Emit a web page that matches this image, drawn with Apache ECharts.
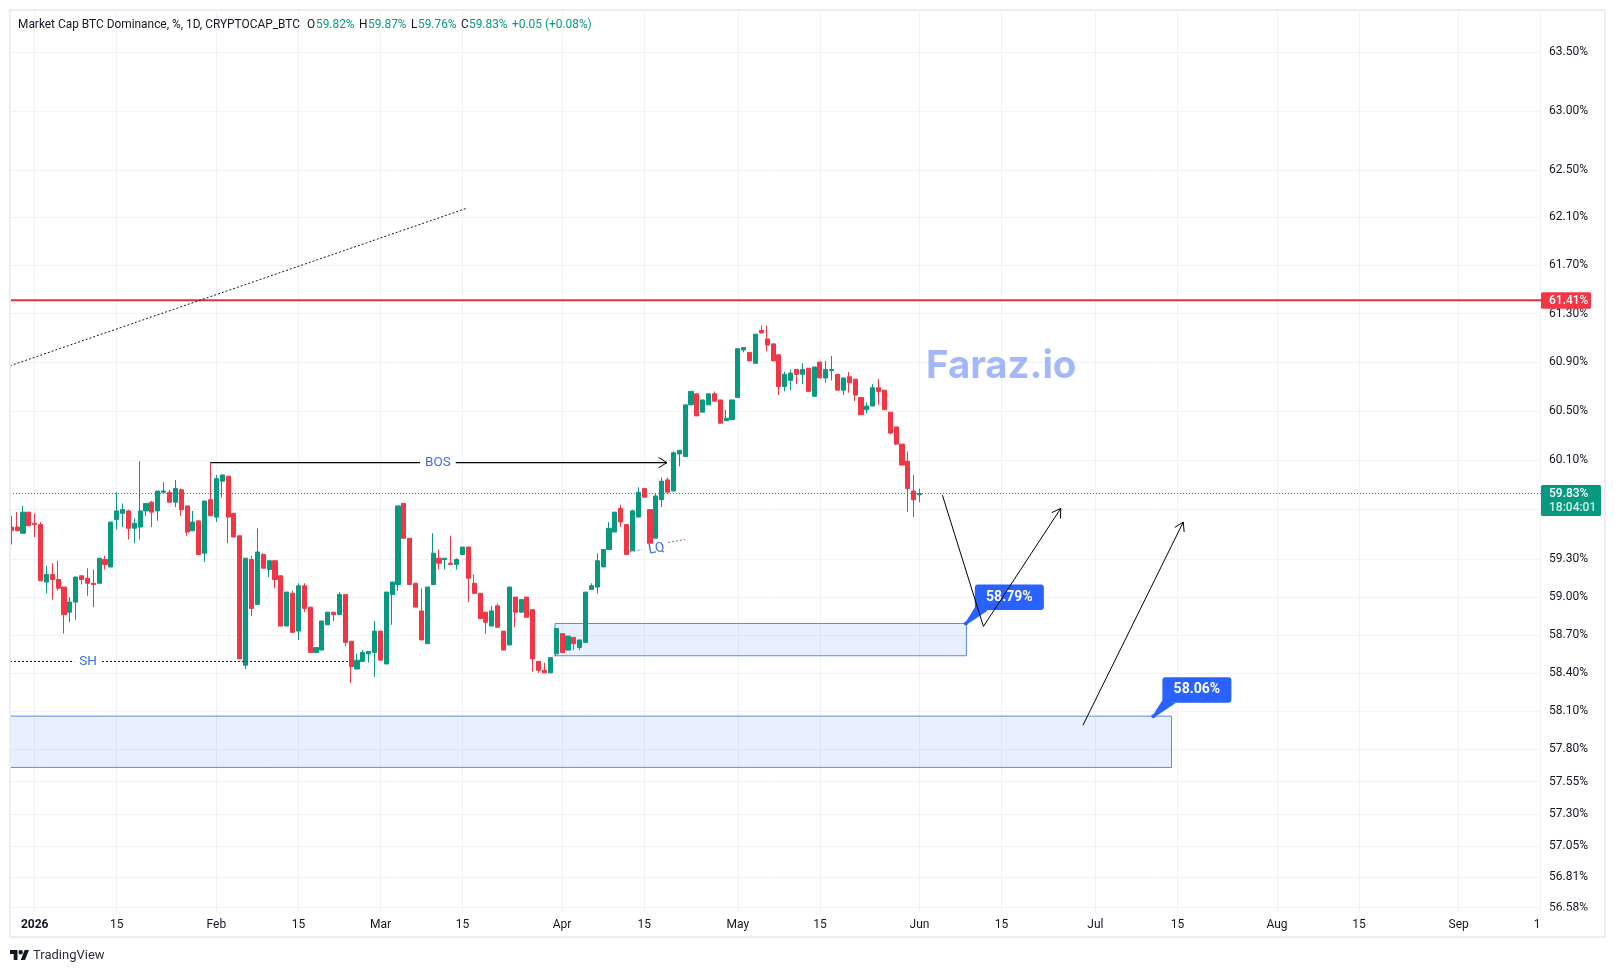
<!DOCTYPE html>
<html>
<head>
<meta charset="utf-8">
<title>BTC Dominance</title>
<script src="https://cdn.jsdelivr.net/npm/echarts@6/dist/echarts.min.js"></script>
<style>
  html, body { margin: 0; padding: 0; background: #fff; }
  #chart { width: 1615px; height: 973px; }
</style>
</head>
<body>
<div id="chart"></div>
<script>
// Daily candles, day numbers count from 1 Jan 2026
const firstCandleDay = -4;
const opens = [59.56,59.56,59.51,59.68,59.59,59.58,59.12,59.18,59.14,59.08,58.88,58.96,59.17,59.15,59.11,59.11,59.30,59.24,59.62,59.67,59.69,59.55,59.56,59.69,59.76,59.69,59.84,59.84,59.76,59.86,59.73,59.53,59.61,59.35,59.78,59.64,59.93,59.97,59.67,59.49,58.46,59.30,58.94,59.34,59.22,59.29,59.17,58.77,59.03,58.73,59.09,58.92,58.56,58.58,58.78,58.88,58.86,59.02,58.65,58.43,58.49,58.55,58.56,58.73,58.47,59.02,59.10,59.75,59.47,59.11,58.89,58.63,59.10,59.31,59.30,59.27,59.26,59.34,59.40,59.11,59.03,58.88,58.77,58.93,58.73,58.62,59.00,58.88,59.00,58.90,58.49,58.42,58.40,58.55,58.71,58.58,58.68,58.60,58.64,59.06,59.08,59.24,59.38,59.52,59.71,59.58,59.37,59.64,59.87,59.70,59.47,59.78,59.94,59.85,60.15,60.13,60.55,60.64,60.49,60.55,60.64,60.59,60.42,60.43,60.61,61.00,60.98,60.89,61.16,61.09,61.05,60.96,60.70,60.75,60.84,60.80,60.85,60.62,60.90,60.77,60.83,60.80,60.67,60.78,60.76,60.61,60.51,60.54,60.69,60.67,60.49,60.37,60.23,60.09,59.85,59.82];
const highs = [59.65,59.68,59.73,59.68,59.67,59.60,59.25,59.27,59.29,59.08,59.00,59.16,59.17,59.23,59.22,59.31,59.33,59.60,59.84,59.75,59.70,59.63,60.09,59.75,59.77,59.85,59.92,59.86,59.94,59.87,59.73,59.69,59.61,59.77,60.08,59.98,59.98,59.97,59.67,59.49,59.31,59.33,59.55,59.35,59.29,59.29,59.17,59.04,59.05,59.11,59.11,58.92,58.60,58.81,58.88,58.88,59.04,59.02,58.65,58.55,58.58,58.57,58.81,58.73,59.04,59.12,59.73,59.75,59.47,59.11,59.07,59.08,59.51,59.38,59.31,59.49,59.31,59.40,59.40,59.18,59.03,58.88,58.93,58.95,58.73,59.08,59.00,58.98,59.00,58.90,58.49,58.48,58.52,58.75,58.71,58.69,58.68,58.66,59.04,59.11,59.35,59.38,59.60,59.68,59.74,59.58,59.70,59.88,59.87,59.70,59.83,59.96,59.96,60.17,60.18,60.55,60.66,60.64,60.59,60.64,60.66,60.59,60.51,60.59,61.01,61.02,60.98,61.13,61.20,61.20,61.05,60.96,60.82,60.84,60.84,60.89,60.85,60.86,60.90,60.91,60.95,60.80,60.77,60.82,60.76,60.61,60.57,60.72,60.76,60.67,60.49,60.37,60.23,60.17,59.98,59.87];
const lows = [59.42,59.53,59.51,59.57,59.48,59.13,59.03,58.98,59.05,58.71,58.80,58.82,59.10,59.01,58.92,59.11,59.22,59.24,59.54,59.56,59.46,59.43,59.46,59.65,59.56,59.61,59.84,59.76,59.72,59.65,59.49,59.53,59.34,59.28,59.65,59.60,59.80,59.43,59.48,58.51,58.43,58.85,58.94,59.23,59.16,59.07,58.77,58.77,58.72,58.66,58.88,58.56,58.56,58.58,58.78,58.81,58.86,58.61,58.32,58.43,58.49,58.48,58.37,58.50,58.47,58.78,59.05,59.47,59.10,58.92,58.66,58.63,59.10,59.22,59.22,59.26,59.22,59.34,58.96,59.03,58.83,58.71,58.77,58.76,58.58,58.62,58.76,58.88,58.84,58.41,58.40,58.40,58.40,58.53,58.56,58.58,58.58,58.58,58.64,59.06,59.03,59.24,59.38,59.52,59.56,59.34,59.37,59.64,59.80,59.43,59.47,59.72,59.84,59.85,60.05,60.13,60.55,60.46,60.49,60.55,60.58,60.40,60.42,60.43,60.61,60.98,60.91,60.89,61.14,60.99,60.91,60.63,60.66,60.67,60.72,60.72,60.66,60.62,60.77,60.73,60.75,60.67,60.63,60.65,60.58,60.47,60.48,60.54,60.55,60.51,60.31,60.22,60.06,59.68,59.64,59.76];
const closes = [59.53,59.53,59.68,59.57,59.58,59.13,59.18,59.14,59.07,58.86,58.96,59.16,59.14,59.11,59.10,59.31,59.26,59.60,59.69,59.70,59.55,59.59,59.69,59.75,59.68,59.85,59.85,59.76,59.87,59.70,59.52,59.60,59.34,59.77,59.65,59.95,59.98,59.64,59.48,58.51,59.31,58.91,59.36,59.23,59.29,59.14,58.77,59.04,58.72,59.09,58.91,58.56,58.60,58.81,58.88,58.86,59.02,58.64,58.45,58.50,58.56,58.57,58.73,58.50,59.04,59.12,59.73,59.47,59.10,58.92,58.66,59.08,59.35,59.27,59.31,59.26,59.30,59.40,59.15,59.03,58.83,58.80,58.89,58.76,58.58,59.08,58.88,58.98,58.84,58.51,58.42,58.40,58.52,58.75,58.56,58.69,58.63,58.66,59.04,59.09,59.29,59.38,59.55,59.68,59.60,59.34,59.69,59.84,59.80,59.43,59.81,59.93,59.84,60.16,60.18,60.55,60.66,60.46,60.59,60.64,60.58,60.40,60.44,60.59,61.01,61.02,60.91,61.13,61.14,61.04,60.91,60.70,60.80,60.81,60.80,60.84,60.66,60.86,60.77,60.84,60.84,60.67,60.77,60.73,60.63,60.47,60.54,60.69,60.66,60.51,60.32,60.23,60.06,59.87,59.78,59.83];

// Price scale
const priceTicks = [63.50,63.00,62.50,62.10,61.70,61.30,60.90,60.50,60.10,59.70,59.30,59.00,58.70,58.40,58.10,57.80,57.55,57.30,57.05,56.81,56.58];
const priceLabels = priceTicks.filter(p => p !== 59.70);

// Time scale
const timeTickDays = [0,14,31,45,59,73,90,104,120,134,151,165,181,195,212,226,243,257];
const timeLabelDays = [0,14,31,45,59,73,90,104,120,134,151,165,181,195,212,226,243,256.4];
const timeLabels = ['2026','15','Feb','15','Mar','15','Apr','15','May','15','Jun','15','Jul','15','Aug','15','Sep','1'];

// Drawings on the chart
const lastPrice = 59.83;
const resistancePrice = 61.41;
const priceTags = [
  { price: 61.41, text: ['61.41%'], color: '#f23645', w: 50 },
  { price: 59.83, text: ['59.83%', '18:04:01'], color: '#089981', w: 60 }
];
const demandZones = [
  { fromDay: 88.8, toDay: 159.0, top: 58.79, bottom: 58.535 },
  { fromDay: -4.215, toDay: 194.0, top: 58.06, bottom: 57.66 }
];
const priceCallouts = [
  { day: 158.9, price: 58.79, text: '58.79%' },
  { day: 190.9, price: 58.06, text: '58.06%' }
];
const dottedLines = [
  { from: [-4.215, 60.87], to: [73.9, 62.18], color: '#131722' },
  { from: [-4.215, 58.49], to: [53.8, 58.49], color: '#131722' },
  { from: [101.5, 59.36], to: [103.6, 59.38], color: '#787b86' },
  { from: [108.1, 59.436], to: [111.0, 59.46], color: '#787b86' }
];
const breakLine = { from: [30, 60.08], to: [107.9, 60.08] };
const arrowPaths = [
  [[154.9, 59.817], [161.9, 58.767], [175.1, 59.71]],
  [[178.9, 57.99], [196.0, 59.60]]
];
const structureLabels = [
  { text: 'BOS', day: 68.8, price: 60.08, rotate: 0 },
  { text: 'SH', day: 9.1, price: 58.49, rotate: 0 },
  { text: 'LQ', day: 106.1, price: 59.385, rotate: 0.2 }
];
const headerParts = [
  ['Market Cap BTC Dominance, %, 1D, CRYPTOCAP_BTC', 18, '#131722'],
  ['O', 307, '#131722'], ['59.82%', 316, '#089981'],
  ['H', 359, '#131722'], ['59.87%', 368, '#089981'],
  ['L', 411, '#131722'], ['59.76%', 418, '#089981'],
  ['C', 461, '#131722'], ['59.83%', 469, '#089981'],
  ['+0.05 (+0.08%)', 512, '#089981']
];

const UI_FONT = 'Roboto, "Noto Sans", sans-serif';
const candleData = opens.map((o, i) => [firstCandleDay + i, o, closes[i], lows[i], highs[i]]);
const plotLeftDay = -4.215, plotRightDay = 257.05;

// Open chevron at the tip of a segment
function chevron(p, q, stroke) {
  const a = Math.atan2(q[1] - p[1], q[0] - p[0]);
  const len = 10, spread = 0.55;
  return {
    type: 'polyline',
    shape: { points: [
      [q[0] - len * Math.cos(a - spread), q[1] - len * Math.sin(a - spread)],
      q,
      [q[0] - len * Math.cos(a + spread), q[1] - len * Math.sin(a + spread)]
    ] },
    style: { fill: 'none', stroke, lineWidth: 1 }
  };
}

const chart = echarts.init(document.getElementById('chart'), null, { renderer: 'canvas' });
chart.setOption({
  animation: false,
  backgroundColor: '#ffffff',
  textStyle: { fontFamily: UI_FONT },
  grid: { left: 10, right: 74, top: 10.5, bottom: 61.5, containLabel: false },
  xAxis: {
    type: 'value', min: plotLeftDay, max: plotRightDay,
    axisLine: { show: false },
    axisTick: { show: false, customValues: timeTickDays },
    splitLine: { show: true, lineStyle: { color: '#f2f3f7', width: 1 } },
    axisLabel: {
      customValues: timeLabelDays, margin: 7.5, color: '#131722', fontSize: 12, fontFamily: UI_FONT,
      formatter: v => {
        const t = timeLabels[timeLabelDays.indexOf(v)];
        return t === '2026' ? '{y|2026}' : t;
      },
      rich: { y: { fontWeight: 'bold', fontSize: 12, color: '#131722', fontFamily: UI_FONT } }
    }
  },
  yAxis: {
    type: 'log', position: 'right', min: 56.55, max: 63.858, logBase: 10,
    axisLine: { show: false },
    axisTick: { show: false, customValues: priceTicks },
    splitLine: { show: true, lineStyle: { color: '#f2f3f7', width: 1 } },
    axisLabel: {
      customValues: priceLabels, margin: 8, color: '#131722', fontSize: 12, fontFamily: UI_FONT,
      formatter: v => Number(v).toFixed(2) + '%'
    }
  },
  graphic: [
    { type: 'rect', z: 100, silent: true, shape: { x: 1541, y: 910.5, width: 60, height: 5 }, style: { fill: '#fff' } },
    { type: 'rect', z: 101, silent: true, shape: { x: 10, y: 10, width: 1595, height: 927 },
      style: { fill: 'none', stroke: '#eceef2', lineWidth: 2 } },
    ...headerParts.map(([text, x, fill]) => ({
      type: 'text', z: 102, silent: true, x, y: 25,
      style: { text, fill, font: '11.9px ' + UI_FONT, verticalAlign: 'middle' }
    })),
    { type: 'text', z: 102, silent: true, x: 926, y: 366,
      style: { text: 'Faraz.io', fill: '#a3b8fa', font: 'bold 38.4px Inter, sans-serif', verticalAlign: 'middle' } },
    { type: 'polygon', z: 102, silent: true,
      shape: { points: [[17.5, 960], [13.7, 960], [13.7, 954], [10, 954], [10, 950], [17.5, 950]] }, style: { fill: '#131722' } },
    { type: 'polygon', z: 102, silent: true,
      shape: { points: [[25, 960], [20.7, 960], [24.7, 950], [29, 950]] }, style: { fill: '#131722' } },
    { type: 'circle', z: 102, silent: true, shape: { cx: 20.7, cy: 952.2, r: 2.2 }, style: { fill: '#131722' } },
    { type: 'text', z: 102, silent: true, x: 33, y: 955.5,
      style: { text: 'TradingView', fill: '#2a2e39', font: '13px ' + UI_FONT, verticalAlign: 'middle' } }
  ],
  series: [
    {
      type: 'custom', name: 'price lines', z: 1, silent: true,
      data: [[plotLeftDay, lastPrice], [plotLeftDay, resistancePrice]],
      renderItem: (params, api) => {
        const a = api.coord([plotLeftDay, api.value(1)]);
        const b = api.coord([plotRightDay, api.value(1)]);
        const isLast = params.dataIndex === 0;
        return {
          type: 'line', shape: { x1: a[0], y1: a[1], x2: b[0], y2: b[1] },
          style: isLast
            ? { stroke: '#089981', lineWidth: 1, lineDash: [1, 2] }
            : { stroke: '#e0323f', lineWidth: 2 }
        };
      }
    },
    {
      type: 'custom', name: 'zone rects', z: 1, silent: true,
      data: demandZones.map(z => [z.fromDay, z.top, z.toDay, z.bottom]),
      renderItem: (params, api) => {
        const p = api.coord([api.value(0), api.value(1)]);
        const q = api.coord([api.value(2), api.value(3)]);
        return {
          type: 'rect',
          shape: { x: p[0], y: p[1], width: q[0] - p[0], height: q[1] - p[1] },
          style: { fill: 'rgba(41,110,235,0.11)', stroke: '#6389db', lineWidth: 1 }
        };
      }
    },
    {
      type: 'candlestick', name: 'BTC.D', z: 2, barWidth: 4.6,
      data: candleData,
      encode: { x: 0, y: [1, 2, 3, 4] },
      itemStyle: { color: '#089981', color0: '#f23645', borderColor: '#089981', borderColor0: '#f23645', borderWidth: 1 }
    },
    {
      type: 'custom', name: 'dotted lines', z: 3, silent: true,
      data: dottedLines.map(l => [l.from[0], l.from[1], l.to[0], l.to[1]]),
      renderItem: (params, api) => {
        const p = api.coord([api.value(0), api.value(1)]);
        const q = api.coord([api.value(2), api.value(3)]);
        return {
          type: 'line', shape: { x1: p[0], y1: p[1], x2: q[0], y2: q[1] },
          style: { stroke: dottedLines[params.dataIndex].color, lineWidth: 1, lineDash: [2, 2] }
        };
      }
    },
    {
      type: 'custom', name: 'break of structure', z: 3, silent: true,
      data: [[...breakLine.from, ...breakLine.to]],
      renderItem: (params, api) => {
        const p = api.coord([api.value(0), api.value(1)]);
        const q = api.coord([api.value(2), api.value(3)]);
        return { type: 'group', children: [
          { type: 'line', shape: { x1: p[0], y1: p[1], x2: q[0], y2: q[1] }, style: { stroke: '#000000', lineWidth: 1.2 } },
          chevron(p, q, '#000000')
        ] };
      }
    },
    {
      type: 'custom', name: 'structure labels', z: 4, silent: true,
      data: structureLabels.map(l => [l.day, l.price]),
      renderItem: (params, api) => {
        const l = structureLabels[params.dataIndex];
        const p = api.coord([api.value(0), api.value(1)]);
        return {
          type: 'text', x: p[0], y: p[1], rotation: l.rotate,
          style: {
            text: l.text, fill: '#3d6fdc', font: '13.5px ' + UI_FONT,
            align: 'center', verticalAlign: 'middle',
            backgroundColor: l.rotate ? 'transparent' : '#ffffff', padding: [1, 5]
          }
        };
      }
    },
    {
      type: 'custom', name: 'callouts', z: 5, silent: true,
      data: priceCallouts.map(c => [c.day, c.price]),
      renderItem: (params, api) => {
        const c = priceCallouts[params.dataIndex];
        const p = api.coord([api.value(0), api.value(1)]);
        const bx = p[0] + 9, by = p[1] - 39;
        return { type: 'group', children: [
          { type: 'polygon', shape: { points: [[p[0] - 0.5, p[1] - 1], [p[0] + 9, p[1] - 16], [p[0] + 22, p[1] - 13], [p[0] + 1, p[1] + 1]] }, style: { fill: '#2962ff' } },
          { type: 'rect', shape: { x: bx, y: by, width: 69, height: 25.5, r: 3 }, style: { fill: '#2962ff' } },
          { type: 'circle', shape: { cx: p[0], cy: p[1], r: 2 }, style: { fill: '#2962ff' } },
          { type: 'text', x: bx + 34.5, y: by + 12.5, style: { text: c.text, fill: '#fff', font: 'bold 14px ' + UI_FONT, align: 'center', verticalAlign: 'middle' } }
        ] };
      }
    },
    {
      type: 'custom', name: 'projected paths', z: 6, silent: true,
      data: arrowPaths.map(a => a[0]),
      renderItem: (params, api) => {
        const pts = arrowPaths[params.dataIndex].map(pt => api.coord(pt));
        return { type: 'group', children: [
          { type: 'polyline', shape: { points: pts }, style: { fill: 'none', stroke: '#000000', lineWidth: 1 } },
          chevron(pts[pts.length - 2], pts[pts.length - 1], '#000000')
        ] };
      }
    },
    {
      type: 'custom', name: 'price tags', z: 7, silent: true,
      data: priceTags.map(t => [plotRightDay, t.price]),
      renderItem: (params, api) => {
        const t = priceTags[params.dataIndex];
        const p = api.coord([plotRightDay, api.value(1)]);
        const two = t.text.length > 1;
        const top = two ? p[1] - 8.5 : p[1] - 8;
        const h = two ? 31 : 16.5;
        const kids = [{ type: 'rect', shape: { x: p[0], y: top, width: t.w, height: h, r: 1.5 }, style: { fill: t.color } }];
        t.text.forEach((s, i) => kids.push({
          type: 'text', x: p[0] + 8, y: top + 8.5 + i * 14.5,
          style: { text: s, fill: i ? '#d5efe9' : '#fff', font: '500 12px ' + UI_FONT, verticalAlign: 'middle' }
        }));
        return { type: 'group', children: kids };
      }
    }
  ]
});
</script>
</body>
</html>
